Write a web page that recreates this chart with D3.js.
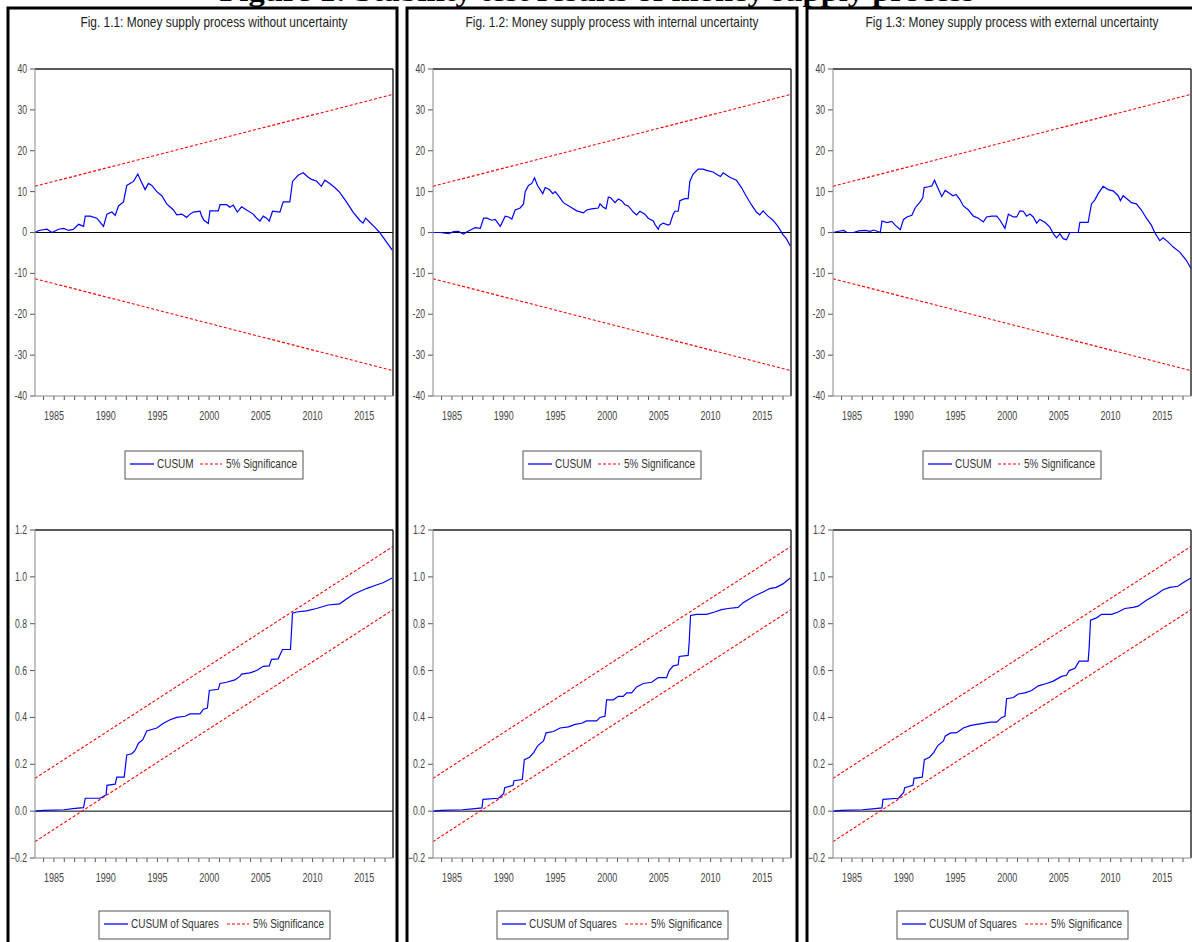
<!DOCTYPE html>
<html>
<head>
<meta charset="utf-8">
<script src="https://cdn.jsdelivr.net/npm/d3@7"></script>
<style>
  body { margin: 0; background: #fff; }
  svg { display: block; }
  text { font-family: "Liberation Sans", Arial, sans-serif; }
</style>
</head>
<body>
<svg id="chart"></svg>
<script>
const W = 1192;
const H = 942;

// panel titles
const titles = [
  "Fig. 1.1: Money supply process without uncertainty",
  "Fig. 1.2: Money supply process with internal uncertainty",
  "Fig 1.3: Money supply process with external uncertainty"
];

const yearLabels = [1985, 1990, 1995, 2000, 2005, 2010, 2015];
const cusumTicks = [40, 30, 20, 10, 0, -10, -20, -30, -40];
const sqTicks = [1.2, 1.0, 0.8, 0.6, 0.4, 0.2, 0.0, -0.2];

// 5% bands: value at first and last observation
const cusumBand = [11.3, 33.8];
const sqUpper = [0.14, 1.13];
const sqLower = [-0.13, 0.86];

// CUSUM [year, value]
const cusum1 = [
  [1983.17, 0], [1983.52, 0.5], [1984.33, 0.8], [1984.81, 0], [1985.45, 0.8], [1985.94, 1.0],
  [1986.42, 0.5], [1986.9, 0.8], [1987.38, 2.0], [1987.86, 1.5], [1988.03, 4.0], [1988.51, 4.0],
  [1989.15, 3.5], [1989.79, 1.5], [1990.12, 4.5], [1990.6, 5.0], [1990.92, 4.2], [1991.24, 6.5],
  [1991.72, 7.5], [1992.04, 11.5], [1992.69, 12.5], [1993.11, 14.3], [1993.33, 13.0], [1993.81, 10.5],
  [1994.13, 12.0], [1994.46, 11.5], [1994.94, 10.0], [1995.42, 9.0], [1995.9, 7.0], [1996.55, 5.5],
  [1996.87, 4.3], [1997.35, 4.5], [1997.83, 3.7], [1998.15, 4.5], [1998.48, 5.0], [1999.12, 5.2],
  [1999.28, 4.0], [1999.5, 3.0], [1999.92, 2.2], [2000.08, 5.3], [2000.89, 5.3], [2001.05, 6.8],
  [2001.69, 6.8], [2002.01, 6.2], [2002.33, 6.7], [2002.72, 5.0], [2003.14, 6.3], [2003.62, 5.5],
  [2004.26, 4.5], [2004.59, 3.5], [2004.91, 2.8], [2005.23, 4.0], [2005.55, 3.5], [2005.81, 2.8],
  [2006.13, 5.2], [2006.84, 5.0], [2007.16, 7.5], [2007.8, 7.5], [2008.06, 12.5], [2008.6, 14.0],
  [2009.09, 14.6], [2009.57, 13.5], [2009.89, 13.0], [2010.37, 12.6], [2010.85, 11.3], [2011.18, 12.8],
  [2011.66, 12.0], [2012.14, 11.0], [2012.62, 9.8], [2013.27, 7.5], [2013.91, 5.0], [2014.55, 3.0],
  [2014.87, 2.3], [2015.13, 3.5], [2015.52, 2.5], [2016.0, 1.3], [2016.48, 0], [2017.13, -2.3],
  [2017.7, -4.3]
];

const cusum2 = [
  [1983.17, 0], [1983.88, 0], [1984.68, -0.3], [1985.16, 0.2], [1985.65, 0.3], [1985.81, 0],
  [1986.13, -0.4], [1986.45, 0.2], [1986.93, 0.8], [1987.25, 1.2], [1987.74, 1.0], [1988.06, 3.5],
  [1988.38, 3.5], [1988.86, 3.0], [1989.18, 3.2], [1989.67, 1.5], [1990.15, 4.0], [1990.47, 3.8],
  [1990.79, 3.3], [1991.11, 5.5], [1991.59, 6.0], [1991.92, 7.0], [1992.08, 10.0], [1992.4, 11.5],
  [1992.72, 12.0], [1992.98, 13.4], [1993.27, 11.5], [1993.78, 9.5], [1994.01, 11.0], [1994.42, 10.5],
  [1994.75, 9.5], [1994.97, 10.0], [1995.29, 9.0], [1995.77, 7.3], [1996.42, 6.3], [1997.06, 5.3],
  [1997.7, 4.8], [1998.02, 5.5], [1998.5, 5.8], [1999.15, 6.0], [1999.31, 7.0], [1999.63, 6.2],
  [1999.89, 5.8], [2000.12, 8.7], [2000.34, 8.5], [2000.76, 7.3], [2001.08, 8.2], [2001.4, 7.8],
  [2001.72, 6.8], [2002.04, 6.5], [2002.53, 5.0], [2002.85, 4.3], [2003.17, 5.2], [2003.65, 4.5],
  [2003.97, 3.5], [2004.46, 2.8], [2004.62, 2.0], [2004.94, 0.8], [2005.1, 1.8], [2005.42, 2.3],
  [2005.9, 1.8], [2006.06, 2.0], [2006.39, 4.5], [2006.55, 5.2], [2006.87, 5.2], [2007.03, 7.8],
  [2007.51, 8.3], [2007.83, 8.3], [2007.99, 12.5], [2008.31, 14.3], [2008.8, 15.5], [2009.28, 15.5],
  [2009.6, 15.2], [2010.24, 14.8], [2010.73, 14.0], [2010.95, 13.7], [2011.21, 14.6], [2011.85, 13.5],
  [2012.49, 12.8], [2012.98, 11.0], [2013.46, 8.8], [2013.94, 6.8], [2014.42, 5.0], [2014.75, 4.3],
  [2015.07, 5.3], [2015.55, 4.0], [2016.03, 3.0], [2016.51, 1.5], [2016.99, -0.5], [2017.32, -1.5],
  [2017.7, -3.3]
];

const cusum3 = [
  [1983.17, 0], [1983.72, 0.3], [1984.2, 0.5], [1984.52, 0], [1985.16, 0], [1985.65, 0.4],
  [1986.29, 0.5], [1986.77, 0.3], [1987.09, 0.6], [1987.58, 0.2], [1987.74, 0], [1987.9, 2.8],
  [1988.38, 2.4], [1988.86, 2.7], [1989.18, 1.8], [1989.67, 0.7], [1989.99, 3.2], [1990.31, 3.8],
  [1990.79, 4.2], [1991.11, 6.0], [1991.59, 7.5], [1991.85, 8.5], [1991.98, 11.0], [1992.4, 11.2],
  [1992.72, 11.4], [1992.98, 12.8], [1993.2, 11.5], [1993.68, 8.8], [1994.01, 10.3], [1994.49, 9.5],
  [1994.75, 9.0], [1995.07, 9.3], [1995.45, 8.0], [1995.77, 6.5], [1996.26, 5.5], [1996.74, 4.0],
  [1997.22, 3.5], [1997.7, 2.6], [1998.02, 3.8], [1998.5, 4.0], [1998.99, 4.0], [1999.31, 3.0],
  [1999.79, 1.0], [2000.12, 4.5], [2000.6, 3.8], [2000.92, 3.8], [2001.24, 5.3], [2001.56, 5.2],
  [2001.88, 4.0], [2002.2, 4.5], [2002.53, 3.8], [2002.85, 2.3], [2003.17, 3.2], [2003.65, 2.5],
  [2004.13, 1.3], [2004.46, -0.3], [2004.78, -1.3], [2005.1, -0.3], [2005.42, -1.5], [2005.74, -1.8],
  [2006.06, 0], [2006.55, 0], [2006.87, 0], [2007.03, 2.5], [2007.83, 2.5], [2008.15, 7.0],
  [2008.48, 8.0], [2008.8, 9.5], [2009.28, 11.3], [2009.76, 10.5], [2010.24, 10.2], [2010.73, 9.0],
  [2010.95, 7.8], [2011.21, 9.0], [2011.69, 8.0], [2012.01, 7.3], [2012.49, 7.0], [2012.98, 5.5],
  [2013.46, 3.5], [2013.94, 1.8], [2014.26, 0], [2014.75, -2.0], [2015.07, -1.3], [2015.55, -2.3],
  [2016.03, -3.5], [2016.68, -4.8], [2017.32, -6.8], [2017.77, -8.8]
];

// CUSUM of squares [year, value]
const sq1 = [
  [1983.17, 0], [1984.01, 0.003], [1985.94, 0.006], [1987.06, 0.012], [1987.86, 0.015], [1988.03, 0.055],
  [1989.47, 0.055], [1990.05, 0.07], [1990.12, 0.11], [1990.92, 0.115], [1991.08, 0.145], [1991.79, 0.145],
  [1992.04, 0.24], [1992.53, 0.245], [1992.85, 0.26], [1993.17, 0.29], [1993.59, 0.305], [1993.97, 0.342],
  [1994.94, 0.355], [1995.58, 0.375], [1996.23, 0.39], [1996.87, 0.4], [1997.67, 0.405], [1998.15, 0.415],
  [1999.12, 0.415], [1999.44, 0.435], [1999.83, 0.44], [2000.02, 0.515], [2000.89, 0.52], [2001.05, 0.545],
  [2001.69, 0.55], [2002.49, 0.56], [2002.97, 0.575], [2003.14, 0.585], [2003.94, 0.59], [2004.59, 0.6],
  [2005.23, 0.618], [2005.81, 0.62], [2006.03, 0.648], [2006.67, 0.65], [2007.09, 0.69], [2007.86, 0.69],
  [2008.06, 0.845], [2008.44, 0.85], [2009.41, 0.855], [2010.37, 0.865], [2011.5, 0.88], [2012.62, 0.885],
  [2013.1, 0.9], [2013.91, 0.925], [2015.2, 0.95], [2016.16, 0.965], [2016.8, 0.975], [2017.7, 0.995]
];

const sq2 = [
  [1983.17, 0], [1984.0, 0.003], [1986.0, 0.006], [1987.0, 0.01], [1987.9, 0.014], [1988.0, 0.05],
  [1989.5, 0.055], [1990.0, 0.075], [1990.1, 0.1], [1990.9, 0.11], [1991.0, 0.13], [1991.8, 0.135],
  [1992.0, 0.22], [1992.5, 0.23], [1992.9, 0.25], [1993.3, 0.28], [1993.85, 0.3], [1994.1, 0.334],
  [1994.81, 0.34], [1995.45, 0.355], [1996.26, 0.36], [1996.9, 0.37], [1997.54, 0.375], [1998.02, 0.385],
  [1998.99, 0.385], [1999.31, 0.4], [1999.79, 0.405], [1999.95, 0.475], [2000.6, 0.475], [2001.08, 0.49],
  [2001.56, 0.49], [2001.88, 0.505], [2002.37, 0.505], [2002.85, 0.53], [2003.49, 0.545], [2004.3, 0.55],
  [2004.94, 0.57], [2005.74, 0.57], [2006.0, 0.6], [2006.39, 0.62], [2006.87, 0.625], [2006.96, 0.66],
  [2007.83, 0.665], [2007.93, 0.72], [2008.06, 0.835], [2008.64, 0.84], [2009.6, 0.84], [2010.4, 0.85],
  [2011.05, 0.86], [2011.69, 0.865], [2012.66, 0.87], [2013.14, 0.89], [2014.1, 0.915], [2015.07, 0.935],
  [2015.71, 0.95], [2016.35, 0.955], [2016.99, 0.97], [2017.7, 0.995]
];

const sq3 = [
  [1983.17, 0], [1984.0, 0.003], [1986.0, 0.006], [1987.0, 0.01], [1987.9, 0.014], [1988.0, 0.05],
  [1989.5, 0.055], [1990.0, 0.08], [1990.1, 0.1], [1990.9, 0.11], [1991.0, 0.14], [1991.8, 0.145],
  [1992.0, 0.22], [1992.5, 0.23], [1992.9, 0.25], [1993.3, 0.28], [1993.85, 0.3], [1994.01, 0.32],
  [1994.49, 0.333], [1995.13, 0.335], [1995.77, 0.355], [1996.42, 0.365], [1997.06, 0.37], [1997.7, 0.375],
  [1998.35, 0.38], [1998.99, 0.38], [1999.47, 0.4], [1999.79, 0.405], [1999.95, 0.48], [2000.6, 0.485],
  [2001.08, 0.5], [2001.72, 0.505], [2002.37, 0.515], [2003.01, 0.535], [2003.81, 0.545], [2004.46, 0.555],
  [2005.26, 0.575], [2005.74, 0.58], [2006.0, 0.6], [2006.55, 0.61], [2006.96, 0.64], [2007.83, 0.64],
  [2007.93, 0.7], [2008.06, 0.815], [2008.64, 0.825], [2009.12, 0.84], [2010.08, 0.84], [2010.73, 0.85],
  [2011.37, 0.865], [2012.17, 0.87], [2012.66, 0.875], [2013.46, 0.9], [2014.42, 0.925], [2015.07, 0.945],
  [2015.71, 0.955], [2016.51, 0.96], [2016.99, 0.975], [2017.77, 0.995]
];

const cusums = [cusum1, cusum2, cusum3];
const squares = [sq1, sq2, sq3];
const panelX = [0, 398, 798];

const xStart = 1983.17;
const xEnd = 2017.77;

const svg = d3.select("#chart").attr("width", W).attr("height", H);

// narrow text (EViews uses a condensed face)
function narrow(sel, sx) {
  return sel.attr("transform", function () {
    const t = d3.select(this);
    const x = +t.attr("x"), y = +t.attr("y");
    return `translate(${x},${y}) scale(${sx},1) translate(${-x},${-y})`;
  });
}

// cropped figure heading at the very top
svg.append("text")
  .attr("x", 597)
  .attr("y", 1)
  .attr("text-anchor", "middle")
  .attr("textLength", 755)
  .attr("lengthAdjust", "spacingAndGlyphs")
  .style("font-family", "'Liberation Serif', 'Times New Roman', serif")
  .style("font-weight", "bold")
  .style("font-size", "28px")
  .text("Figure 1: Stability test results of money supply process");

function drawChart(g, data, opts) {
  const x = d3.scaleLinear().domain([xStart, xEnd]).range([35, 393]);
  const y = d3.scaleLinear().domain(opts.domain).range([opts.top, opts.bottom]);

  // y ticks
  const yAxis = g.append("g");
  yAxis.selectAll("line")
    .data(opts.ticks)
    .enter()
    .append("line")
    .attr("x1", 30).attr("x2", 35)
    .attr("y1", (d) => y(d)).attr("y2", (d) => y(d))
    .attr("stroke", "#555");
  yAxis.selectAll("text")
    .data(opts.ticks)
    .enter()
    .append("text")
    .attr("x", 27)
    .attr("y", (d) => y(d) + 4)
    .attr("text-anchor", "end")
    .attr("font-size", "12px")
    .attr("fill", "#444")
    .text(opts.fmt)
    .call(narrow, 0.72);

  // x ticks every year
  const years = d3.range(1984, 2018);
  g.append("g").selectAll("line")
    .data(years)
    .enter()
    .append("line")
    .attr("x1", (d) => x(d)).attr("x2", (d) => x(d))
    .attr("y1", opts.bottom).attr("y2", opts.bottom + 4)
    .attr("stroke", "#555");
  g.append("g").selectAll("text")
    .data(yearLabels)
    .enter()
    .append("text")
    .attr("x", (d) => x(d))
    .attr("y", opts.bottom + 24)
    .attr("text-anchor", "middle")
    .attr("font-size", "12px")
    .attr("fill", "#444")
    .text((d) => d)
    .call(narrow, 0.75);

  // zero line
  g.append("line")
    .attr("x1", 35).attr("x2", 393)
    .attr("y1", y(0)).attr("y2", y(0))
    .attr("stroke", "#000");

  // significance bands
  opts.bands.forEach((b) => {
    g.append("line")
      .attr("x1", x(xStart)).attr("x2", x(xEnd))
      .attr("y1", y(b[0])).attr("y2", y(b[1]))
      .attr("stroke", "#ff0000")
      .attr("stroke-width", 1.1)
      .attr("stroke-dasharray", "3,2");
  });

  const line = d3.line().x((d) => x(d[0])).y((d) => y(d[1]));
  g.append("path")
    .datum(data)
    .attr("d", line)
    .attr("fill", "none")
    .attr("stroke", "#0000ff")
    .attr("stroke-width", 1.2);

  // frame
  g.append("line").attr("x1", 35).attr("x2", 393).attr("y1", opts.top).attr("y2", opts.top)
    .attr("stroke", "#222").attr("stroke-width", 1.6);
  g.append("line").attr("x1", 393).attr("x2", 393).attr("y1", opts.top).attr("y2", opts.bottom)
    .attr("stroke", "#222").attr("stroke-width", 1.4);
  g.append("line").attr("x1", 35).attr("x2", 35).attr("y1", opts.top).attr("y2", opts.bottom)
    .attr("stroke", "#888");
  g.append("line").attr("x1", 35).attr("x2", 393).attr("y1", opts.bottom).attr("y2", opts.bottom)
    .attr("stroke", "#888");

  // legend
  const lg = g.append("g");
  lg.append("rect")
    .attr("x", opts.legend.x).attr("y", opts.legend.y)
    .attr("width", opts.legend.w).attr("height", 28)
    .attr("fill", "#fff").attr("stroke", "#555");
  const ly = opts.legend.y + 13;
  lg.append("line")
    .attr("x1", opts.legend.x + 5).attr("x2", opts.legend.x + 29)
    .attr("y1", ly).attr("y2", ly)
    .attr("stroke", "#0000ff").attr("stroke-width", 1.3);
  lg.append("text")
    .attr("x", opts.legend.x + 32).attr("y", ly + 4)
    .attr("font-size", "12.5px").attr("fill", "#333")
    .text(opts.legend.label)
    .call(narrow, 0.8);
  const rx = opts.legend.x + opts.legend.w - 103;
  lg.append("line")
    .attr("x1", rx).attr("x2", rx + 22)
    .attr("y1", ly).attr("y2", ly)
    .attr("stroke", "#ff0000").attr("stroke-dasharray", "3,2").attr("stroke-width", 1.1);
  lg.append("text")
    .attr("x", rx + 26).attr("y", ly + 4)
    .attr("font-size", "12.5px").attr("fill", "#333")
    .text("5% Significance")
    .call(narrow, 0.8);
}

panelX.forEach((px, i) => {
  const g = svg.append("g").attr("transform", `translate(${px},0)`);

  g.append("text")
    .attr("x", 214)
    .attr("y", 27)
    .attr("text-anchor", "middle")
    .attr("font-size", "14px")
    .attr("fill", "#222")
    .text(titles[i])
    .call(narrow, 0.85);

  drawChart(g, cusums[i], {
    domain: [40, -40], top: 69, bottom: 396,
    ticks: cusumTicks, fmt: (d) => d,
    bands: [cusumBand, cusumBand.map((v) => -v)],
    legend: { x: 125, y: 451, w: 178, label: "CUSUM" }
  });

  drawChart(g, squares[i], {
    domain: [1.2, -0.2], top: 530, bottom: 858,
    ticks: sqTicks, fmt: d3.format(".1f"),
    bands: [sqUpper, sqLower],
    legend: { x: 99, y: 911, w: 231, label: "CUSUM of Squares" }
  });
});

// panel separators / borders
const borders = [[8, 397], [407, 797], [807, 1200]];
borders.forEach((b) => {
  svg.append("rect")
    .attr("x", b[0]).attr("y", 8)
    .attr("width", b[1] - b[0]).attr("height", H + 20)
    .attr("fill", "none")
    .attr("stroke", "#000")
    .attr("stroke-width", 3);
});
</script>
</body>
</html>
